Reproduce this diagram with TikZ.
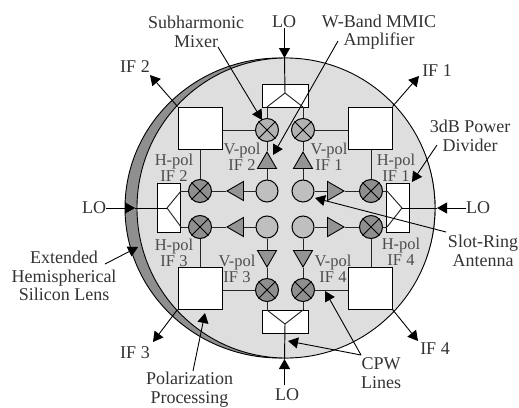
\documentclass[tikz,border=0pt]{standalone}
\usepackage{fontspec}
\setmainfont{Liberation Serif}
\usetikzlibrary{arrows.meta,shapes.geometric}
\definecolor{lensfill}{gray}{0.87}
\definecolor{crescent}{gray}{0.56}
\definecolor{mixlight}{gray}{0.70}
\definecolor{mixdark}{gray}{0.56}
\definecolor{ringfill}{gray}{0.75}
\definecolor{trifill}{gray}{0.58}
\definecolor{wirecol}{gray}{0.15}
\definecolor{subtext}{gray}{0.3}
\tikzset{
  wire/.style={draw=wirecol,line width=0.95pt},
  callout/.style={draw=black,line width=0.9pt,-{Triangle[length=10pt,width=11pt]}},
  mixer/.style={circle,draw=black,line width=1pt,minimum size=23pt,inner sep=0pt},
  ring/.style={circle,draw=black,line width=1pt,fill=ringfill,minimum size=22pt,inner sep=0pt},
  amp/.style={regular polygon,regular polygon sides=3,draw=black,line width=0.9pt,fill=trifill,inner sep=0pt,minimum size=22pt},
  block/.style={draw=black,line width=1pt,fill=white,minimum width=44pt,minimum height=42pt,inner sep=0pt},
  hsplit/.style={draw=black,line width=1pt,fill=white,minimum width=46pt,minimum height=23pt,inner sep=0pt},
  vsplit/.style={draw=black,line width=1pt,fill=white,minimum width=23pt,minimum height=49pt,inner sep=0pt},
  big/.style={inner sep=0pt,align=center,font=\fontsize{18}{18.5}\selectfont,text=black!80},
  small/.style={inner sep=0pt,align=center,font=\fontsize{16.5}{16}\selectfont,text=subtext},
}
\newcommand{\mixerat}[4]{\node[mixer,fill=#4] (#1) at (#2,#3) {};
  \draw[line width=0.9pt] (#1.45)--(#1.225) (#1.135)--(#1.-45);}
\begin{document}
\begin{tikzpicture}[x=1pt,y=-1pt]
\useasboundingbox (0,0) rectangle (519,407);
% lens
\fill[crescent,draw=black,line width=0.9pt] (280,208) ellipse [x radius=155,y radius=150];
\fill[lensfill,draw=black,line width=0.9pt] (286,208) ellipse [x radius=149,y radius=150];
% blocks
\node[block] (b2) at (200,128) {};
\node[block] (b1) at (370,128) {};
\node[block] (b3) at (200,288) {};
\node[block] (b4) at (370,288) {};
% splitters
\node[hsplit] (st) at (285,95.5) {};
\node[hsplit] (sb) at (285,321.5) {};
\node[vsplit] (sl) at (169,207.5) {};
\node[vsplit] (sr) at (398,207.5) {};
% mixers
\mixerat{mt2}{267}{130}{mixlight}
\mixerat{mt1}{303}{130}{mixlight}
\mixerat{mh2}{200}{191}{mixdark}
\mixerat{mh1}{371}{191}{mixdark}
\mixerat{mh3}{200}{227}{mixdark}
\mixerat{mh4}{371}{227}{mixdark}
\mixerat{mb3}{267}{290}{mixdark}
\mixerat{mb4}{303}{290}{mixdark}
% rings
\node[ring] (r2) at (267,191) {};
\node[ring] (r1) at (303,191) {};
\node[ring] (r3) at (267,227) {};
\node[ring] (r4) at (303,227) {};
% amplifiers
\node[amp] (au2) at (267,163) {};
\node[amp] (au1) at (303,163) {};
\node[amp,shape border rotate=180] (ad3) at (267,256) {};
\node[amp,shape border rotate=180] (ad4) at (303,256) {};
\node[amp,shape border rotate=90] (al2) at (238,191) {};
\node[amp,shape border rotate=90] (al3) at (238,227) {};
\node[amp,shape border rotate=-90] (ar1) at (333,191) {};
\node[amp,shape border rotate=-90] (ar4) at (333,227) {};
% junctions of the splitters
\coordinate (jt) at (285,93);
\coordinate (jb) at (285,324);
\coordinate (jl) at (167,208);
\coordinate (jr) at (402,208);
\coordinate (jt2) at (267,107);
\coordinate (jt1) at (303,107);
\coordinate (jb3) at (267,310);
\coordinate (jb4) at (303,310);
\coordinate (jl2) at (181,191);
\coordinate (jl3) at (181,227);
\coordinate (jr1) at (387,191);
\coordinate (jr4) at (387,227);
\draw[wire] (jt2)--(jt)--(jt1) (jb3)--(jb)--(jb4) (jl2)--(jl)--(jl3) (jr1)--(jr)--(jr4);
% wires
\draw[wire] (jt2)--(mt2) (jt1)--(mt1) (jb3)--(mb3) (jb4)--(mb4)
  (jl2)--(mh2) (jl3)--(mh3) (jr1)--(mh1) (jr4)--(mh4);
\draw[wire] (b2.east |- mt2)--(mt2) (b1.west |- mt1)--(mt1) (b3.east |- mb3)--(mb3) (b4.west |- mb4)--(mb4);
\draw[wire] (mh2)--(mh2 |- b2.south) (mh1)--(mh1 |- b1.south) (mh3)--(mh3 |- b3.north) (mh4)--(mh4 |- b4.north);
\draw[wire] (r2)--(au2.side 2) (au2.corner 1)--(mt2) (r1)--(au1.side 2) (au1.corner 1)--(mt1);
\draw[wire] (r3)--(ad3.side 2) (ad3.corner 1)--(mb3) (r4)--(ad4.side 2) (ad4.corner 1)--(mb4);
\draw[wire] (r2)--(al2.side 2) (al2.corner 1)--(mh2) (r3)--(al3.side 2) (al3.corner 1)--(mh3);
\draw[wire] (r1)--(ar1.side 2) (ar1.corner 1)--(mh1) (r4)--(ar4.side 2) (ar4.corner 1)--(mh4);
% labels
\node[big] (lot) at (284,22) {LO};
\node[big] (lob) at (287,395) {LO};
\node[big] (lol) at (94,208) {LO};
\node[big] (lor) at (478,208) {LO};
\node[big] (if2) at (135,67) {IF 2};
\node[big] (if1) at (437,71) {IF 1};
\node[big] (if3) at (135,353) {IF 3};
\node[big] (if4) at (435,349) {IF 4};
\node[big] (sub) at (196,32) {Subharmonic\\Mixer};
\node[big] (wb) at (379,32) {W-Band MMIC\\Amplifier};
\node[big] (pd) at (470,136) {3dB Power\\Divider};
\node[big] (sra) at (483,251) {Slot-Ring\\Antenna};
\node[big] (ext) at (64,276) {Extended\\Hemispherical\\Silicon Lens};
\node[big] (pol) at (189.5,389.5) {Polarization\\Processing};
\node[big] (cpw) at (381,373) {CPW\\Lines};
\node[small] at (174,167.5) {H-pol\\IF 2};
\node[small] at (174,253) {H-pol\\IF 3};
\node[small] at (396,167.5) {H-pol\\IF 1};
\node[small] at (401,252) {H-pol\\IF 4};
\node[small] at (242,157) {V-pol\\IF 2};
\node[small] at (329,157) {V-pol\\IF 1};
\node[small] at (237,268.5) {V-pol\\IF 3};
\node[small] at (333,268.5) {V-pol\\IF 4};
% LO feeds
\coordinate (ttip) at (284.5,58);
\coordinate (btip) at (284.5,359);
\coordinate (ltip) at (135,208);
\coordinate (rtip) at (437,208);
\draw[callout] (lot.south -| ttip)--(ttip);
\draw[wire,draw=black] (ttip)--(jt);
\draw[callout] (284.5,385)--(btip);
\draw[wire,draw=black] (btip)--(jb);
\draw[callout] (lol.east)--(ltip);
\draw[wire,draw=black] (ltip)--(jl);
\draw[callout] (lor.west)--(rtip);
\draw[wire,draw=black] (rtip)--(jr);
% IF outputs
\coordinate (t2) at (150,75);
\coordinate (t1) at (419,76);
\coordinate (t3) at (153,342);
\coordinate (t4) at (418,341);
\draw[callout] (b2.north west)--(t2);
\draw[callout] (b1.north east)--(t1);
\draw[callout] (b3.south west)--(t3);
\draw[callout] (b4.south east)--(t4);
% callouts
\coordinate (asub) at (218,47);
\coordinate (tsub) at (262,120);
\draw[callout] (asub)--(tsub);
\coordinate (awb) at (338,41);
\coordinate (twb) at (273,155);
\draw[callout] (awb)--(twb);
\coordinate (apd) at (437,145);
\coordinate (tpd) at (412,182);
\draw[callout] (apd)--(tpd);
\coordinate (asr) at (446,232);
\coordinate (tsr) at (315,198);
\draw[callout] (asr)--(tsr);
\coordinate (aext) at (105,264);
\coordinate (text) at (138,247);
\draw[callout] (aext)--(text);
\coordinate (apol) at (193,371);
\coordinate (tpol) at (205,313);
\draw[callout] (apol)--(tpol);
\coordinate (acpw) at (361,355);
\coordinate (tcpa) at (288,341);
\coordinate (tcpb) at (325,291);
\draw[callout] (acpw)--(tcpa);
\draw[callout] (acpw)--(tcpb);
\end{tikzpicture}
\end{document}
